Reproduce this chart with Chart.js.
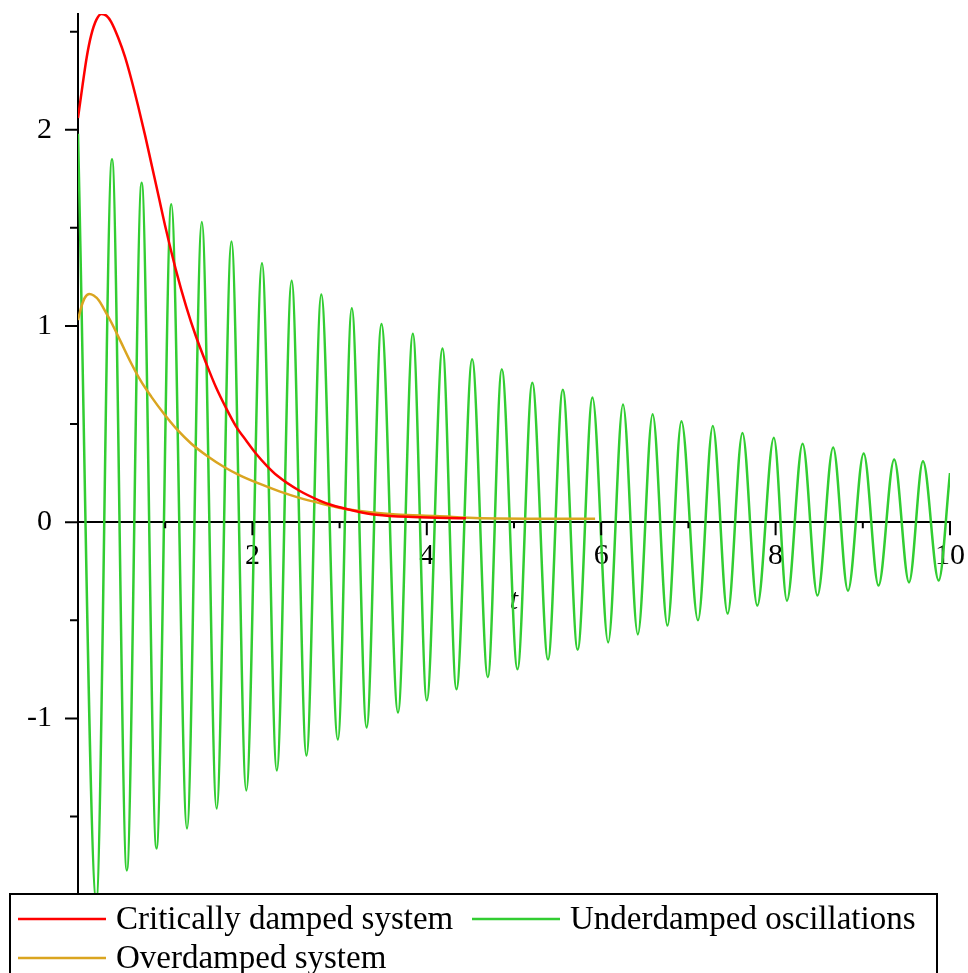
<!DOCTYPE html>
<html>
<head>
<meta charset="utf-8">
<script src="https://cdn.jsdelivr.net/npm/chart.js@4"></script>
<style>
  html, body { margin: 0; padding: 0; background: #fff; }
</style>
</head>
<body>
<canvas id="plot" width="968" height="973"></canvas>
<script>
// Critically damped system (red)
const criticalTimes = [0, 0.05, 0.10, 0.15, 0.21, 0.27, 0.33, 0.38, 0.46, 0.54, 0.61, 0.69, 0.77, 0.84, 0.92,
  1.01, 1.12, 1.24, 1.35, 1.47, 1.58, 1.70, 1.81, 1.93, 2.04, 2.16, 2.29, 2.54, 2.77, 2.89, 3.19, 3.42, 3.84, 4.45];
const criticalValues = [2.06, 2.22, 2.37, 2.48, 2.56, 2.59, 2.58, 2.55, 2.47, 2.37, 2.26, 2.12, 1.97, 1.83, 1.67,
  1.49, 1.29, 1.10, 0.95, 0.81, 0.69, 0.58, 0.49, 0.415, 0.35, 0.29, 0.235, 0.16, 0.11, 0.09, 0.056, 0.038, 0.026, 0.02];

// Underdamped oscillations (green): maxima, minima and the last sample
const peakTimes = [0, 0.39, 0.73, 1.07, 1.42, 1.76, 2.11, 2.45, 2.79, 3.14, 3.48, 3.84, 4.18, 4.52, 4.86,
  5.21, 5.56, 5.90, 6.25, 6.59, 6.92, 7.28, 7.62, 7.98, 8.31, 8.66, 9.01, 9.36, 9.69];
const peakValues = [1.98, 1.85, 1.73, 1.62, 1.53, 1.43, 1.32, 1.23, 1.16, 1.09, 1.01, 0.96, 0.885, 0.83, 0.78,
  0.71, 0.675, 0.635, 0.60, 0.55, 0.515, 0.49, 0.455, 0.43, 0.40, 0.38, 0.35, 0.32, 0.31];
const troughTimes = [0.21, 0.56, 0.90, 1.25, 1.59, 1.93, 2.28, 2.62, 2.98, 3.31, 3.67, 4.00, 4.34, 4.70, 5.04,
  5.39, 5.73, 6.08, 6.42, 6.76, 7.11, 7.45, 7.79, 8.13, 8.48, 8.83, 9.18, 9.53, 9.87];
const troughValues = [-1.92, -1.775, -1.663, -1.561, -1.459, -1.367, -1.265, -1.189, -1.108, -1.046, -0.97, -0.908,
  -0.852, -0.79, -0.75, -0.70, -0.65, -0.613, -0.572, -0.527, -0.50, -0.466, -0.425, -0.40, -0.374, -0.349,
  -0.323, -0.307, -0.297];
const endTimes = [10];
const endValues = [0.25];

// Overdamped system (orange)
const overTimes = [0, 0.04, 0.08, 0.13, 0.18, 0.24, 0.30, 0.38, 0.49, 0.61, 0.72, 0.84, 0.99, 1.14, 1.30, 1.49,
  1.68, 1.85, 2.08, 2.31, 2.54, 2.77, 3.04, 3.35, 3.65, 4.11, 4.61, 5.93];
const overValues = [1.03, 1.10, 1.145, 1.163, 1.155, 1.13, 1.085, 1.02, 0.92, 0.81, 0.72, 0.64, 0.55, 0.47, 0.40, 0.335,
  0.28, 0.24, 0.196, 0.157, 0.124, 0.097, 0.07, 0.051, 0.039, 0.031, 0.02, 0.017];

// Axis ticks
const xTickValues = [1, 2, 3, 4, 5, 6, 7, 8, 9, 10];
const yTickValues = [-1.5, -1, -0.5, 0, 0.5, 1, 1.5, 2, 2.5];

const serif = 'Liberation Serif';

function toPoints(ts, ys) {
  return ts.map((t, i) => ({ x: t, y: ys[i] }));
}

const underdampedPoints = toPoints(peakTimes, peakValues)
  .concat(toPoints(troughTimes, troughValues), toPoints(endTimes, endValues))
  .sort((a, b) => a.x - b.x);

// short and long tick marks, drawn by hand
const tickMarks = {
  id: 'tickMarks',
  afterDraw(chart) {
    const { ctx, chartArea, scales: { x, y } } = chart;
    const y0 = y.getPixelForValue(0);
    ctx.save();
    ctx.strokeStyle = '#000';
    ctx.lineWidth = 2;
    ctx.beginPath();
    x.ticks.forEach(t => {
      const px = x.getPixelForValue(t.value);
      ctx.moveTo(px, y0);
      ctx.lineTo(px, y0 + (t.value % 2 === 0 ? 13 : 6));
    });
    y.ticks.forEach(t => {
      const py = y.getPixelForValue(t.value);
      ctx.moveTo(chartArea.left, py);
      ctx.lineTo(chartArea.left - (Number.isInteger(t.value) ? 13 : 8), py);
    });
    ctx.stroke();
    ctx.restore();
  }
};

// boxed legend under the plot
const legendSlots = [[18, 919], [472, 919], [18, 958]];
const boxedLegend = {
  id: 'boxedLegend',
  afterDraw(chart) {
    const ctx = chart.ctx;
    ctx.save();
    ctx.strokeStyle = '#000';
    ctx.lineWidth = 2;
    ctx.strokeRect(10, 894, 927, 100);
    ctx.font = '33px "' + serif + '"';
    ctx.textBaseline = 'middle';
    ctx.fillStyle = '#000';
    chart.data.datasets.forEach((ds, i) => {
      const [lx, ly] = legendSlots[i];
      ctx.strokeStyle = ds.borderColor;
      ctx.lineWidth = 2.5;
      ctx.beginPath();
      ctx.moveTo(lx, ly);
      ctx.lineTo(lx + 88, ly);
      ctx.stroke();
      ctx.fillText(ds.label, lx + 98, ly + 1);
    });
    ctx.restore();
  }
};

const lineStyle = {
  borderWidth: 2.5,
  pointRadius: 0,
  fill: false,
  cubicInterpolationMode: 'monotone'
};

new Chart(document.getElementById('plot'), {
  type: 'line',
  data: {
    datasets: [
      { ...lineStyle, label: 'Critically damped system', data: toPoints(criticalTimes, criticalValues), borderColor: '#ff0000', order: 0 },
      { ...lineStyle, label: 'Underdamped oscillations', data: underdampedPoints, borderColor: '#32cd32', order: 2 },
      { ...lineStyle, label: 'Overdamped system', data: toPoints(overTimes, overValues), borderColor: '#daa520', order: 1 }
    ]
  },
  options: {
    responsive: false,
    animation: false,
    layout: { padding: { left: 0, right: 18, top: 14, bottom: 80 } },
    plugins: { legend: { display: false }, tooltip: { enabled: false } },
    scales: {
      x: {
        type: 'linear',
        min: 0,
        max: 10,
        position: { y: 0 },
        afterBuildTicks: s => { s.ticks = xTickValues.map(v => ({ value: v })); },
        afterFit: s => { s.paddingLeft = 0; s.paddingRight = 0; },
        grid: { display: false, drawTicks: true, tickLength: 12 },
        border: { display: true, color: '#000', width: 2 },
        ticks: {
          padding: 4, maxRotation: 0, autoSkip: false, color: '#000',
          font: { family: serif, size: 30 },
          callback: v => (v % 2 === 0 ? String(v) : '')
        },
        title: {
          display: true, text: 't', color: '#000',
          font: { family: serif, size: 30, style: 'italic' },
          padding: { top: 5, bottom: 0 }
        }
      },
      y: {
        type: 'linear',
        min: -1.89,
        max: 2.59,
        afterBuildTicks: s => { s.ticks = yTickValues.map(v => ({ value: v })); },
        afterFit: s => { s.width = 78; s.paddingTop = 0; s.paddingBottom = 0; },
        grid: { display: false, drawTicks: true, tickLength: 13 },
        border: { display: true, color: '#000', width: 2 },
        ticks: {
          padding: 13, autoSkip: false, color: '#000',
          font: { family: serif, size: 30 },
          callback: v => (Number.isInteger(v) ? String(v) : '')
        }
      }
    }
  },
  plugins: [tickMarks, boxedLegend]
});
</script>
</body>
</html>
